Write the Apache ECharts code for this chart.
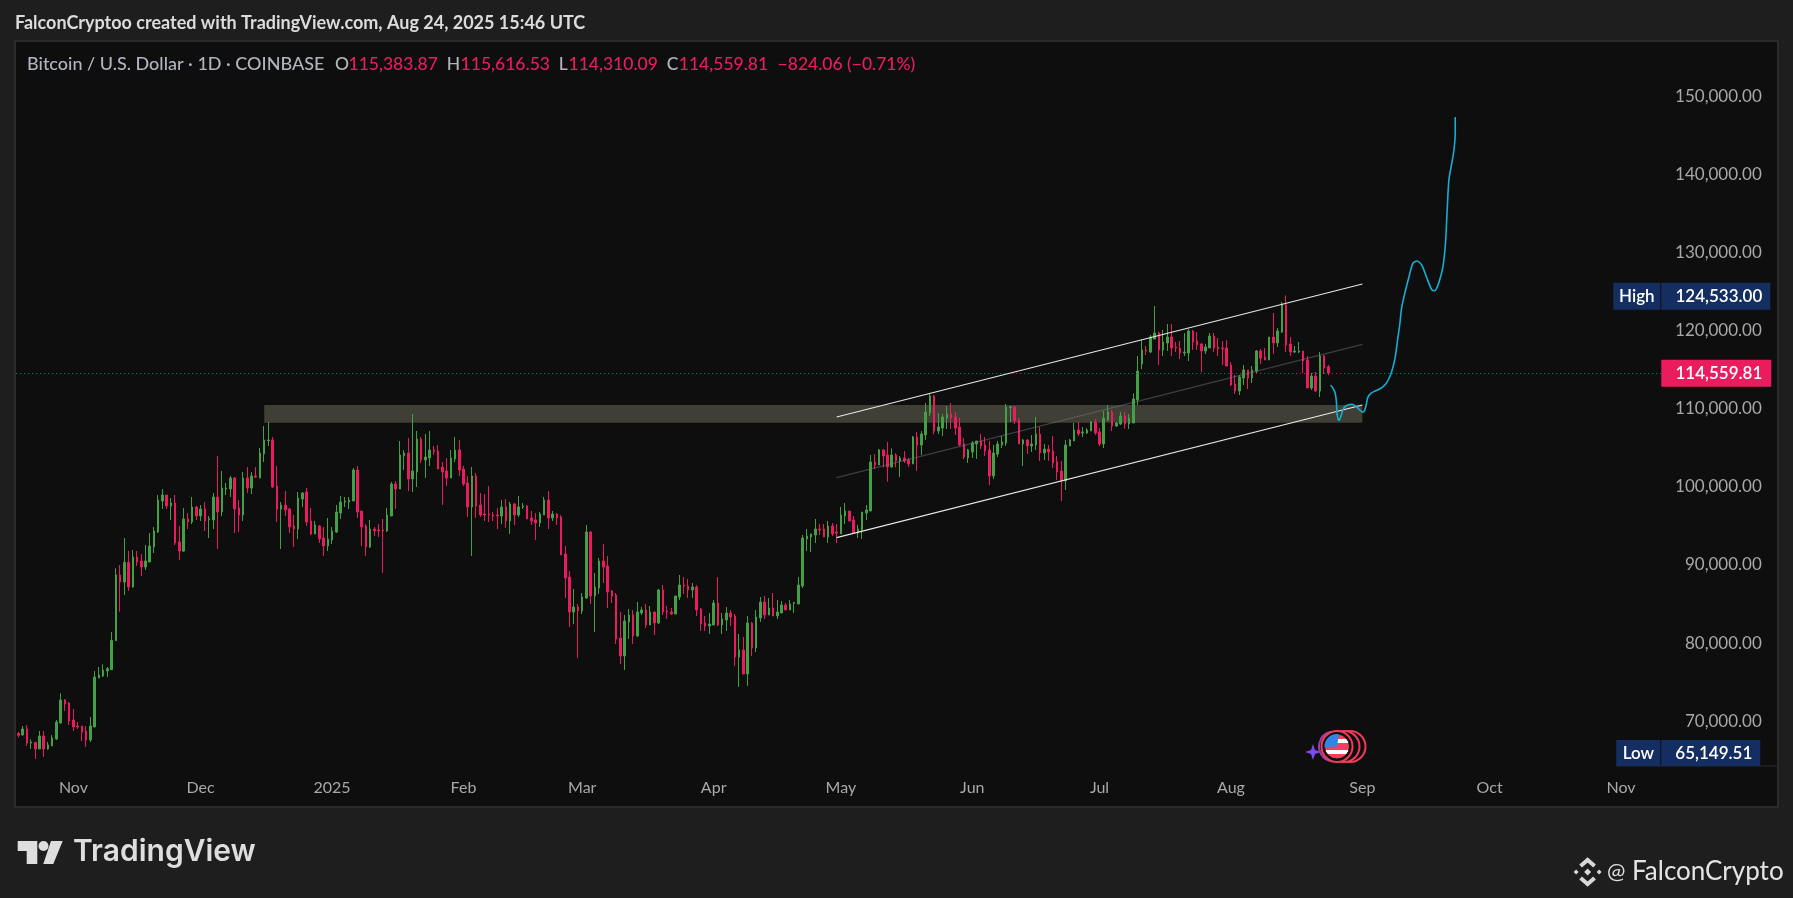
<!DOCTYPE html>
<html><head><meta charset="utf-8">
<style>html,body{margin:0;padding:0;background:#1e1e1e}#c{width:1793px;height:898px}</style>
<script src="https://cdn.jsdelivr.net/npm/echarts@6/dist/echarts.min.js"></script>
</head><body><div id="c"></div>
<script>
const firstDate = '2024-10-19';
const totalSlots = 388;
const opens = [
68447,68234,69002,67209,67294,66442,68105,66442,66826,67721,
69772,72715,72331,70155,69386,69386,68746,67593,69258,75532,
75788,76429,76600,80312,88720,87824,90342,87184,91024,90513,
89745,90384,92305,94226,98195,98963,97555,97939,92945,91793,
95890,95506,97427,96274,97171,95805,95762,98707,96786,99732,
99732,101140,97299,96402,101140,99860,101396,101140,104213,105920,
106005,100116,97171,97683,97171,94994,94610,98451,99347,95634,
93970,94994,93458,92433,93202,94226,96659,98067,98067,98195,
102164,96914,94994,92305,94610,94482,94482,94354,96274,100372,
99732,103957,104341,101012,101908,106133,103445,103701,104725,104597,
102548,102036,101140,103573,104725,102292,100500,97427,101396,97683,
96530,96530,96402,96402,96274,97427,95634,97811,96402,97427,
97555,96018,95762,95378,96402,98323,96018,96530,96146,91409,
88464,83983,84623,84111,85775,94226,86031,87056,90513,89872,
86671,86159,80653,78348,82703,83598,80910,83854,84239,82318,
83983,82574,86799,84111,83983,83726,85903,87440,87312,86799,
87184,84367,82574,82190,82318,85135,82318,82958,83854,83470,
78220,79117,76045,82574,79374,83214,85263,83598,84495,83470,
83854,84879,84239,85092,85007,87312,93330,93586,93842,94610,
94610,93586,94994,94226,93970,96274,96914,95762,94098,94482,
96659,96914,103188,102804,104725,104085,102548,104085,103317,103701,
103445,102933,106390,105365,106646,109463,111639,107158,107542,108823,
109335,108950,107670,105493,103701,104469,105493,105878,105365,104725,
101396,104213,105365,105621,110146,110231,108566,105493,106006,105237,
105365,106774,104341,104853,104597,103189,102037,100756,105237,105878,
107286,106902,106902,107158,108310,107030,105493,108566,109591,107798,
108054,109078,108054,108182,111127,115736,117529,117272,118937,119705,
117529,118425,119193,117913,117785,117144,117144,119961,118681,118297,
117400,117785,119321,117913,117785,117785,115608,113175,112279,113943,
114968,113943,114840,117400,116632,116248,119193,118425,119833,123290,
118297,117272,117272,117400,116248,112663,114200,112279,116760,115383.87];
const closes = [
68191,69002,67167,67337,66442,68105,66442,66953,67849,69896,
72715,72203,70025,69258,69258,68618,67593,69386,75660,75916,
76557,76727,80355,88720,87824,90342,87184,91024,90384,89745,
90513,92433,94354,98323,98963,97555,97939,92817,91793,95890,
95506,97427,96274,97171,95634,95933,98707,96786,99860,99860,
101140,97171,96402,101140,99860,101396,101268,104341,106005,106005,
99988,97171,97683,97043,94866,94610,98579,99219,95506,93970,
95122,93330,92433,93330,94354,96786,98067,98195,98323,102164,
96786,94866,92305,94610,94354,94354,94354,96402,100372,99732,
104085,104341,101012,102036,106133,103445,103829,104725,104554,102292,
101908,101140,103701,104725,102164,100372,97427,101396,97555,96402,
96402,96402,96274,96274,97427,95634,97811,96402,97427,97555,
95890,95634,95378,96530,98323,96018,96530,96018,91281,88336,
83983,84623,84111,85903,94226,86031,87184,90513,89745,86543,
86031,80525,78348,82830,83598,80910,83983,84239,82318,83983,
82574,86799,83983,83983,83726,86031,87440,87312,86799,87184,
84239,82446,82190,82446,85135,82318,83086,83854,83342,78220,
79117,76045,82574,79374,83342,85263,83598,84495,83470,83983,
84879,84239,85007,85220,87440,93458,93714,93970,94610,94482,
93586,94994,93970,94098,96402,96914,95634,94098,94610,96786,
97043,103188,102804,104725,103957,102548,104085,103317,103701,103317,
102933,106390,105365,106774,109591,111639,107158,107670,108950,109335,
108823,107542,105365,103829,104725,105621,105878,105237,104597,101396,
104341,105493,105750,110231,110274,108438,105493,106006,105237,105493,
106774,104341,104853,104469,103061,101909,100756,105365,106006,107286,
106774,107030,107286,108310,106902,105493,108823,109591,107798,108182,
109078,108054,108822,111255,114840,117529,117400,119193,119705,117529,
118553,119193,117785,117785,117144,117272,119961,118553,118169,117400,
117913,119321,117785,117657,117657,115480,113047,112279,114072,114968,
113943,114968,117400,116504,116248,119193,118425,119961,123418,118169,
117272,117400,117400,116120,112663,114200,112279,116760,115224,114559.81];
const highs = [
68618,69386,69514,67678,67294,68746,68746,67337,68234,70155,
73569,72843,72459,71563,69896,69386,69386,70538,76428,76940,
77282,76940,81422,89574,89999,93458,91793,91921,91793,91409,
92561,94098,94866,98963,99731,98963,98579,98963,94994,97299,
96659,98707,97555,97683,98067,96274,99219,103957,102036,100500,
101396,101268,98323,101908,102548,101908,102548,104981,107798,108310,
106389,102676,98067,99475,97299,96403,99347,99347,99859,97299,
95634,95122,94866,96018,94866,97683,98835,98707,98707,102420,
102676,96914,95250,95762,94866,95250,95890,97299,100628,100756,
105877,104725,106262,109334,107158,106389,106774,107158,105237,105365,
103188,103701,104725,106389,106005,102676,101396,102548,101780,99219,
99091,100116,96786,97299,98323,98451,98067,97939,98835,97939,
97683,96914,96659,96786,98707,99475,96914,96659,96402,92433,
89232,86928,85007,86415,95122,94354,88976,90897,92689,91153,
86799,86415,83983,83598,84367,84239,85263,84623,85007,84751,
83983,86928,87439,84751,84495,86031,88720,88464,88208,87696,
87440,84495,83470,83854,85519,88464,83854,84623,84239,83726,
81166,80782,83470,82702,84239,85903,86031,85775,86415,85519,
85391,85135,85519,85263,88464,93842,94610,93970,95890,95250,
95250,95634,95378,95250,97427,97939,96914,96274,95122,96786,
97683,104085,104213,104853,104853,105750,104938,104299,103957,104597,
103701,106518,107030,107158,110743,111981,111767,109463,109335,110359,
110743,109591,108823,106262,104853,105878,105878,106774,106390,105878,
105365,105878,106518,110615,110359,110359,108823,106134,106134,106646,
108950,107670,105493,105365,106518,103957,103317,106006,106134,108182,
108310,107670,107542,108438,108694,107542,109719,110487,109847,108310,
109590,109590,109334,111980,116760,118809,118041,119449,123162,119876,
120089,120858,120858,118553,118681,119705,120217,120089,119833,118425,
118297,119705,119705,119065,118681,118809,115992,114328,114328,115608,
114968,115480,117529,117657,117785,119193,122266,120345,123675,124533,
119193,118041,118553,117400,116760,114584,114712,117272,116888,115616.53];
const lows = [
67935,68191,66826,66442,65149.51,66442,65417,66357,66826,67593,
69686,71307,69514,68746,69002,67465,66698,67337,69258,75490,
75660,75660,76557,80270,84007,86159,86672,87098,89872,88592,
89360,90384,91537,94098,97171,97171,95762,92561,90641,91665,
94610,95250,95762,95634,94354,93458,94610,92049,96274,98963,
98707,94098,94226,95634,99219,99091,101140,101140,103188,105237,
99860,95506,92049,96274,94098,92305,93330,97427,94994,93842,
93970,92817,91153,91793,92689,94098,95890,97427,97171,98195,
96018,92433,91153,92177,93714,93586,88976,94226,96274,97171,
99732,102164,99476,99347,99988,103060,101140,102676,104085,102292,
97683,100116,101140,103188,101396,100116,96146,91153,96018,96146,
95634,95506,95634,94610,95250,94738,93970,95122,96146,97171,
95890,95122,93202,94866,96402,94610,95634,95122,91281,85775,
82062,82446,78092,83726,85647,85007,81422,86287,87696,84495,
85135,79885,77324,76557,80525,79885,80782,83598,81934,82318,
81038,82446,83598,83086,83598,83726,85519,86287,85775,85775,
83470,81550,81550,81166,82318,82190,81166,81550,82190,77068,
74380,76045,74508,78348,78860,82702,83086,83598,83470,83086,
83854,84239,84239,83854,85007,87056,91793,91665,92817,93842,
93586,92817,93714,92817,93970,95250,95634,94098,93458,93330,
95762,96914,102292,102804,102500,100671,102506,102506,101268,103061,
102548,102933,102036,104085,106006,109079,106731,106774,106518,107414,
107414,106646,105237,103573,103061,103701,103573,104853,103957,100244,
101012,103829,104981,105237,108310,108054,105493,102677,104213,104469,
104725,103317,103445,103317,102421,100884,98195,99603,105237,105878,
106518,106390,106774,107158,106646,105237,104981,108438,107158,107670,
107926,107457,107414,108182,110487,115096,116888,117144,118937,115608,
116760,117400,116760,117272,116376,116760,116120,117529,117529,114712,
117016,117785,117272,116760,115608,115480,112920,111895,111767,113047,
112535,113303,114584,115736,116248,116248,117016,117913,119705,117272,
116760,117144,117144,114584,112663,112407,112151,111511,114456,114310.09];

const priceTicks = [70000,80000,90000,100000,110000,120000,130000,140000,150000];
const monthLabels = {'2024-11-01':'Nov','2024-12-01':'Dec','2025-01-01':'2025','2025-02-01':'Feb','2025-03-01':'Mar','2025-04-01':'Apr','2025-05-01':'May','2025-06-01':'Jun','2025-07-01':'Jul','2025-08-01':'Aug','2025-09-01':'Sep','2025-10-01':'Oct','2025-11-01':'Nov'};
const highValue = 124533.00, lowValue = 65149.51, lastClose = 114559.81;

// drawn objects, x given in bar slots counted from the first candle
const zoneX = [58,317], zonePrice = [108225,110487];
const channelX = [193,317];
const channelUpper = [108950,125979];
const channelMiddle = [101178,118259];
const channelLower = [93496,110487];
const pathX = [309.5,310.1,310.6,310.9,311.0,311.3,311.5,311.9,312.4,312.9,313.7,314.5,315.5,316.4,317.1,317.5,317.9,318.3,319.0,320.0,321.2,322.3,323.1,323.9,324.7,325.3,325.8,326.3,327.2,328.0,328.9,329.9,331.0,332.2,333.4,334.1,335.1,336.0,336.6,337.0,337.4,338.1,338.6,338.9,338.9];
const pathPrice = [113009,112625,111985,110704,109424,108656,108528,108989,109847,110269,110525,110576,110320,109847,109552,109757,110487,111473,111985,112279,112574,113048,113688,114751,116466,118809,120730,123073,125211,126914,128630,128925,128412,126748,125211,125122,126274,128195,131191,135455,139296,141472,143137,145314,147362];

const dates = [];
{ const d0 = Date.parse(firstDate+'T00:00:00Z');
  for (let i=0;i<totalSlots;i++) dates.push(new Date(d0+i*86400000).toISOString().slice(0,10)); }
const candles = opens.map((o,i)=>[o,closes[i],lows[i],highs[i]]);
const fmt = v => Number(v).toLocaleString('en-US',{minimumFractionDigits:2,maximumFractionDigits:2});
const FONT='Lato';
const UP='#43A047', DOWN='#EB1C5E', NAVY='#142E61';
const zip=(a,b)=>a.map((x,i)=>[x,b[i]]);
const chLine=(name,vals,color,w)=>({name,type:'line',xAxisIndex:1,yAxisIndex:0,data:zip(channelX,vals),symbol:'none',z:5,silent:true,lineStyle:{color,width:w}});
const txt=(x,y,text,fill,size,weight)=>({type:'text',silent:true,z:10,x,y,style:{text,fill,font:`${weight||500} ${size}px ${FONT}`,verticalAlign:'middle'}});
const OHLC_Y=64, PINK='#EB1C5E', GREY='#B2B5BE', OS=17.5;
const CLEAR='rgba(0,0,0,0)';

const chart=echarts.init(document.getElementById('c'),null,{renderer:'canvas'});
const flagX=1337, flagY=746.5;
const logoC={x:1587.6,y:872};
chart.setOption({
 animation:false,backgroundColor:'#1E1E1E',
 grid:{left:16.18,top:42,width:totalSlots*4.24,height:724,containLabel:false},
 xAxis:[
  {type:'category',data:dates,boundaryGap:true,axisLine:{show:false},axisTick:{show:false},splitLine:{show:false},
   axisLabel:{color:'#A8A8A8',fontFamily:FONT,fontSize:16,margin:14,hideOverlap:false,
    interval:(i,v)=>v in monthLabels,formatter:v=>monthLabels[v]||''}},
  {type:'value',show:false,min:-0.5,max:totalSlots-0.5}
 ],
 yAxis:[{type:'value',position:'right',min:64264,max:156965,axisLine:{show:false},axisTick:{show:false},splitLine:{show:false},
   axisLabel:{customValues:priceTicks,color:'#A8A8A8',fontFamily:FONT,fontSize:17,align:'right',margin:100.5,padding:[2,0,0,0],formatter:v=>fmt(v)}}],
 series:[
  {name:'zone',type:'line',xAxisIndex:1,yAxisIndex:0,z:1,silent:true,symbol:'none',lineStyle:{opacity:0},
   data:[[zoneX[0],zonePrice[0]],[zoneX[1],zonePrice[1]]],
   markArea:{silent:true,itemStyle:{color:'#3F3F35'},data:[[{xAxis:zoneX[0],yAxis:zonePrice[0]},{xAxis:zoneX[1],yAxis:zonePrice[1]}]]}},
  {name:'BTCUSD',type:'candlestick',xAxisIndex:0,yAxisIndex:0,z:3,barWidth:2,data:candles,silent:true,
   itemStyle:{color:UP,color0:DOWN,borderColor:UP,borderColor0:DOWN,borderWidth:1},
   markLine:{silent:true,symbol:['none','none'],animation:false,precision:2,
    data:[
     {yAxis:lastClose,lineStyle:{color:PINK,type:[1,3],width:1},
      label:{show:true,position:'end',distance:0,formatter:()=>'{v|'+fmt(lastClose)+'}',
       rich:{v:{backgroundColor:PINK,color:'#fff',fontFamily:FONT,fontSize:17,fontWeight:600,width:101,height:27,lineHeight:27,align:'right',padding:[0,9,0,0]}}}},
     {yAxis:highValue,lineStyle:{color:CLEAR,width:0},
      label:{show:true,position:'end',distance:-48,offset:[0,1],formatter:()=>'{t|High}{g|}{v|'+fmt(highValue)+'}',
       rich:{t:{backgroundColor:NAVY,color:'#fff',fontFamily:FONT,fontSize:17,fontWeight:600,width:47,height:27,lineHeight:27,align:'center'},
             g:{width:1,height:27},
             v:{backgroundColor:NAVY,color:'#fff',fontFamily:FONT,fontSize:17,fontWeight:600,width:101,height:27,lineHeight:27,align:'right',padding:[0,8,0,0]}}}},
     {yAxis:lowValue,lineStyle:{color:CLEAR,width:0},
      label:{show:true,position:'end',distance:-45,offset:[0,-6],formatter:()=>'{t|Low}{g|}{v|'+fmt(lowValue)+'}',
       rich:{t:{backgroundColor:NAVY,color:'#fff',fontFamily:FONT,fontSize:17,fontWeight:600,width:44,height:26,lineHeight:26,align:'center'},
             g:{width:1,height:26},
             v:{backgroundColor:NAVY,color:'#fff',fontFamily:FONT,fontSize:17,fontWeight:600,width:91,height:26,lineHeight:26,align:'right',padding:[0,8,0,0]}}}}
    ]}},
  chLine('upper',channelUpper,'#E6E6E6',1.2),
  chLine('middle',channelMiddle,'rgba(120,123,134,0.45)',1.2),
  chLine('lower',channelLower,'#E6E6E6',1.2),
  {name:'path',type:'line',xAxisIndex:1,yAxisIndex:0,z:6,silent:true,symbol:'none',smooth:0.25,data:zip(pathX,pathPrice),lineStyle:{color:'#14AFD2',width:1.6}}
 ],
 graphic:[
  {type:'rect',silent:true,z:-1,shape:{x:15,y:41,width:1763,height:766},style:{fill:'#0E0E0E',stroke:'#2B2B2B',lineWidth:2}},
  {type:'line',silent:true,z:-1,shape:{x1:1616,y1:766,x2:1777,y2:766},style:{stroke:'#2B2B2B',lineWidth:1}},
  txt(15,23,'FalconCryptoo created with TradingView.com, Aug 24, 2025 15:46 UTC','#DCDCDC',18,700),
  txt(27,OHLC_Y,'Bitcoin / U.S. Dollar · 1D · COINBASE',GREY,18),
  txt(335,OHLC_Y,'O',GREY,OS),txt(348.5,OHLC_Y,'115,383.87',PINK,OS),
  txt(446.7,OHLC_Y,'H',GREY,OS),txt(460.6,OHLC_Y,'115,616.53',PINK,OS),
  txt(558.8,OHLC_Y,'L',GREY,OS),txt(568.5,OHLC_Y,'114,310.09',PINK,OS),
  txt(666.7,OHLC_Y,'C',GREY,OS),txt(678.8,OHLC_Y,'114,559.81',PINK,OS),
  txt(777.6,OHLC_Y,'−824.06 (−0.71%)',PINK,OS),
  // TradingView mark
  {type:'polygon',silent:true,z:10,shape:{points:[[17.7,841],[37.3,841],[37.3,864],[26.7,864],[26.7,851],[17.7,851]]},style:{fill:'#DEDEDE'}},
  {type:'circle',silent:true,z:10,shape:{cx:43.5,cy:846,r:5},style:{fill:'#DEDEDE'}},
  {type:'polygon',silent:true,z:10,shape:{points:[[51,841],[62.7,841],[53.3,864],[43.3,864]]},style:{fill:'#DEDEDE'}},
  {type:'text',silent:true,z:10,x:73,y:852,style:{text:'TradingView',fill:'#DEDEDE',font:'600 30px Inter',verticalAlign:'middle'}},
  // account mark
  {type:'polyline',silent:true,z:10,shape:{points:[[logoC.x-7,logoC.y-6],[logoC.x,logoC.y-12],[logoC.x+7,logoC.y-6]]},style:{stroke:'#D8D8D8',lineWidth:4,fill:'none'}},
  {type:'polyline',silent:true,z:10,shape:{points:[[logoC.x-7,logoC.y+6],[logoC.x,logoC.y+12],[logoC.x+7,logoC.y+6]]},style:{stroke:'#D8D8D8',lineWidth:4,fill:'none'}},
  ...[[-11.5,0,2.5],[11.5,0,2.5],[0,0,3.5]].map(([dx,dy,r])=>({type:'polygon',silent:true,z:10,shape:{points:[[logoC.x+dx,logoC.y+dy-r],[logoC.x+dx+r,logoC.y+dy],[logoC.x+dx,logoC.y+dy+r],[logoC.x+dx-r,logoC.y+dy]]},style:{fill:'#D8D8D8'}})),
  {type:'text',silent:true,z:10,x:1607,y:872,style:{text:'@',fill:'#DEDEDE',font:'400 22px Lato',verticalAlign:'middle'}},
  {type:'text',silent:true,z:10,x:1632,y:872,style:{text:'FalconCrypto',fill:'#E4E4E4',font:'400 26px Lato',verticalAlign:'middle'}},
  // economic event badge
  {type:'polygon',silent:true,z:10,shape:{points:[[1313,744],[1315,750],[1321,752],[1315,754],[1313,760],[1311,754],[1305,752],[1311,750]]},style:{fill:'#7A4CF0'}},
  {type:'arc',silent:true,z:10,shape:{cx:flagX-3,cy:flagY,r:15,startAngle:1.8,endAngle:4.5,clockwise:true},style:{stroke:'#9A3FB0',lineWidth:2,fill:'none'}},
  ...[13,7,0].map(dx=>({type:'circle',silent:true,z:11,shape:{cx:flagX+dx,cy:flagY,r:15.5},style:{fill:'#0E0E0E',stroke:'#F23A5B',lineWidth:2}})),
  {type:'circle',silent:true,z:12,shape:{cx:flagX,cy:flagY,r:12.5},style:{stroke:'#0E0E0E',lineWidth:1,fill:{type:'linear',x:0,y:0,x2:0,y2:1,colorStops:[{offset:0,color:'#F0435A'},{offset:.2,color:'#F0435A'},{offset:.2,color:'#fff'},{offset:.38,color:'#fff'},{offset:.38,color:'#F0435A'},{offset:.62,color:'#F0435A'},{offset:.62,color:'#fff'},{offset:.8,color:'#fff'},{offset:.8,color:'#F0435A'},{offset:1,color:'#F0435A'}]}}},
  {type:'sector',silent:true,z:13,shape:{cx:flagX,cy:flagY,r:12.5,r0:0,startAngle:Math.PI*0.98,endAngle:Math.PI*1.55},style:{fill:'#2F86E6'}}
 ]
});
</script></body></html>
